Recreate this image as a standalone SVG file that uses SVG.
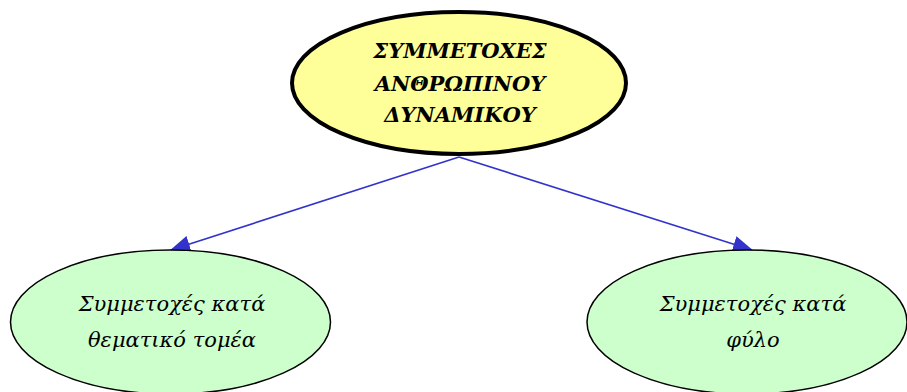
<svg xmlns="http://www.w3.org/2000/svg" width="907" height="392" viewBox="0 0 907 392">
<style>
.t{font-family:"DejaVu Serif","Liberation Serif",serif;font-style:italic;fill:#000;text-anchor:middle}
.top{font-size:21px;font-weight:bold}
.sub{font-size:21px}
.edge{stroke:#3333cc;stroke-width:1.6;fill:none}
</style>
<defs>
<marker id="ah" markerWidth="20" markerHeight="17" refX="19" refY="8.5" orient="auto" markerUnits="userSpaceOnUse">
<path d="M0,0 L20,8.5 L0,17 Z" fill="#3333cc"/>
</marker>
</defs>
<rect width="907" height="392" fill="#fff"/>
<g id="connectors">
<line class="edge" x1="459" y1="157" x2="171" y2="250" marker-end="url(#ah)"/>
<line class="edge" x1="459" y1="157" x2="752" y2="250" marker-end="url(#ah)"/>
</g>
<g id="node-root">
<ellipse cx="459" cy="83" rx="167" ry="71" fill="#ffff99" stroke="#000" stroke-width="4"/>
<text class="t top" x="460" y="58">ΣΥΜΜΕΤΟΧΕΣ</text>
<text class="t top" x="460" y="91">ΑΝΘΡΩΠΙΝΟΥ</text>
<text class="t top" x="460" y="122">ΔΥΝΑΜΙΚΟΥ</text>
</g>
<g id="node-left">
<ellipse cx="170.5" cy="322" rx="160" ry="72" fill="#ccffcc" stroke="#000" stroke-width="1.5"/>
<text class="t sub" x="172" y="311">Συμμετοχές κατά</text>
<text class="t sub" x="172" y="347">θεματικό τομέα</text>
</g>
<g id="node-right">
<ellipse cx="747" cy="322" rx="160" ry="72" fill="#ccffcc" stroke="#000" stroke-width="1.5"/>
<text class="t sub" x="753" y="311">Συμμετοχές κατά</text>
<text class="t sub" x="753" y="347">φύλο</text>
</g>
</svg>
